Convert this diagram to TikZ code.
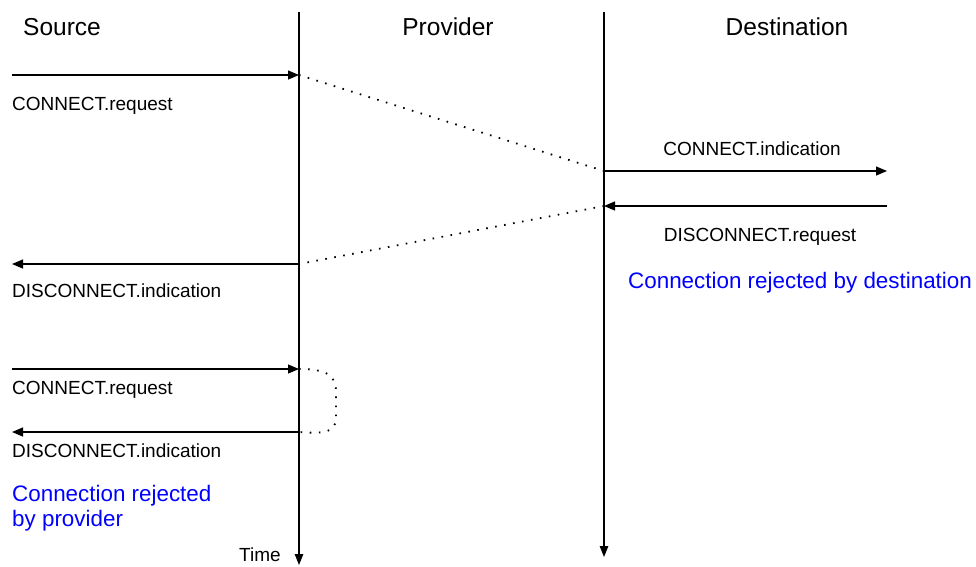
\documentclass[tikz,border=0pt]{standalone}
\usepackage{fontspec}
\setmainfont{Liberation Sans}
\usetikzlibrary{arrows.meta}
\begin{document}
\begin{tikzpicture}[x=1pt,y=-1pt,
  msg/.style={line width=1.2pt,-{Triangle[length=11pt,width=9pt]}},
  life/.style={line width=1.1pt,-{Triangle[length=11pt,width=8.5pt]}},
  dots/.style={line width=1.8pt,dash pattern=on 1.6pt off 7.5pt},
  lbl/.style={inner sep=0pt,font=\fontsize{19}{22}\selectfont},
  hdr/.style={inner sep=0pt,font=\fontsize{24.5}{28}\selectfont},
  note/.style={inner sep=0pt,text=blue,font=\fontsize{22.4}{26}\selectfont,align=left}]
\useasboundingbox (0,0) rectangle (976,566);
% lifelines
\coordinate (pTop) at (299,12);
\coordinate (pBot) at (299,565);
\coordinate (dTop) at (604,12);
\coordinate (dBot) at (604,557);
\draw[life] (pTop) -- (pBot);
\draw[life] (dTop) -- (dBot);
% headers
\node[hdr,anchor=base] (hs) at (62,35) {Source};
\node[hdr,anchor=base] (hp) at (448,35) {Provider};
\node[hdr,anchor=base] (hd) at (787,35) {Destination};
% message points
\coordinate (s1) at (12,75);  \coordinate (p1) at (299,75);
\coordinate (d1) at (604,171); \coordinate (e1) at (887,171);
\coordinate (e2) at (887,206); \coordinate (d2) at (604,206);
\coordinate (p2) at (299,264); \coordinate (s2) at (12,264);
\coordinate (s3) at (12,369); \coordinate (p3) at (299,369);
\coordinate (p4) at (299,432); \coordinate (s4) at (12,432);
\coordinate (c1) at (336,392); \coordinate (c2) at (336,418);
\draw[msg] (s1) -- (p1);
\draw[dots] (p1) -- (d1);
\draw[msg] (d1) -- (e1);
\draw[msg] (e2) -- (d2);
\draw[dots] (d2) -- (p2);
\draw[msg] (p2) -- (s2);
\draw[msg] (s3) -- (p3);
\draw[dots] (p3) .. controls (328,369) and (336,376) .. (c1) -- (c2) .. controls (336,432) and (325,434) .. (p4);
\draw[msg] (p4) -- (s4);
% labels
\node[lbl,anchor=base west] (l1) at (12,110) {CONNECT.request};
\node[lbl,anchor=base] (l2) at (752,155) {CONNECT.indication};
\node[lbl,anchor=base] (l3) at (760,241) {DISCONNECT.request};
\node[lbl,anchor=base west] (l4) at (12,297) {DISCONNECT.indication};
\node[note,anchor=base west] (n1) at (628,288) {Connection rejected by destination};
\node[lbl,anchor=base west] (l5) at (12,394) {CONNECT.request};
\node[lbl,anchor=base west] (l6) at (12,457) {DISCONNECT.indication};
\node[note,anchor=base west] (n2) at (12,501) {Connection rejected};
\node[note,anchor=base west] (n3) at (12,526) {by provider};
\node[lbl,anchor=base] (t) at (260,561) {Time};
\end{tikzpicture}
\end{document}
